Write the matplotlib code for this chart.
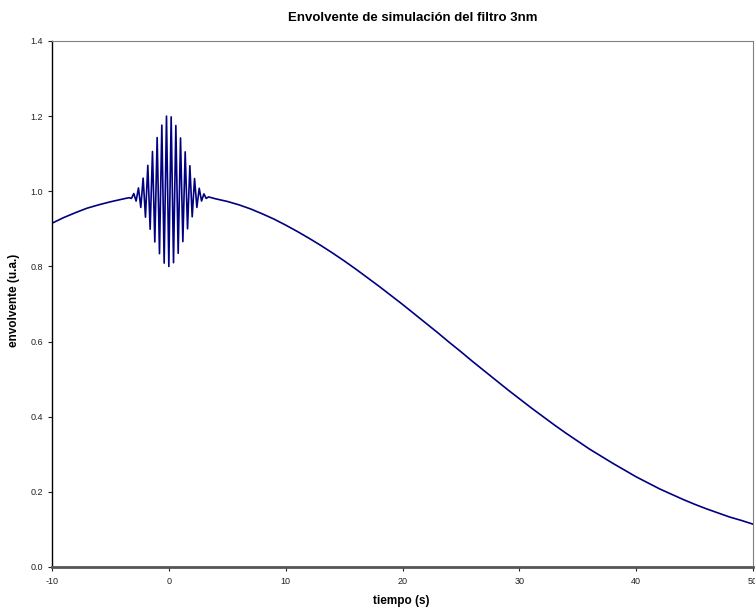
import matplotlib
matplotlib.use("Agg")
import matplotlib.pyplot as plt

plt.rcParams['font.family'] = ['Liberation Sans', 'DejaVu Sans']

# Slowly varying envelope before the wave packet (s, u.a.)
left_time = [-10, -9, -8, -7, -6, -5, -4, -3.4]
left_value = [0.915, 0.930, 0.943, 0.955, 0.964, 0.972, 0.979, 0.983]

# Oscillating packet around t = 0: alternating extrema (s, u.a.)
osc_time = [-3.2, -3.0, -2.8, -2.6, -2.4, -2.2, -2.0, -1.8, -1.6, -1.4,
            -1.2, -1.0, -0.8, -0.6, -0.4, -0.2, 0.0, 0.2, 0.4, 0.6,
            0.8, 1.0, 1.2, 1.4, 1.6, 1.8, 2.0, 2.2, 2.4, 2.6,
            2.8, 3.0, 3.2]
osc_value = [0.981, 0.994, 0.974, 1.009, 0.957, 1.035, 0.931, 1.069, 0.899, 1.106,
             0.865, 1.143, 0.834, 1.176, 0.809, 1.200, 0.800, 1.198, 0.810, 1.175,
             0.835, 1.142, 0.866, 1.105, 0.900, 1.068, 0.932, 1.034, 0.957, 1.008,
             0.974, 0.993, 0.981]

# Slowly varying envelope after the wave packet (s, u.a.)
right_time = [3.4, 4, 5, 6, 7, 8, 9, 10, 11, 12, 13, 14, 15, 16, 17, 18, 19, 20,
              21, 22, 23, 24, 25, 26, 27, 28, 29, 30, 31, 32, 33, 34, 35, 36,
              37, 38, 39, 40, 41, 42, 43, 44, 45, 46, 47, 48, 49, 50]
right_value = [0.985, 0.980, 0.973, 0.964, 0.953, 0.940, 0.926, 0.910, 0.893, 0.875,
               0.856, 0.836, 0.815, 0.793, 0.770, 0.747, 0.723, 0.699, 0.674, 0.649,
               0.624, 0.598, 0.573, 0.547, 0.522, 0.497, 0.472, 0.448, 0.424, 0.401,
               0.378, 0.356, 0.335, 0.314, 0.295, 0.276, 0.258, 0.240, 0.224, 0.208,
               0.194, 0.180, 0.167, 0.155, 0.144, 0.133, 0.124, 0.114]

x_ticks = [-10, 0, 10, 20, 30, 40, 50]
y_ticks = [0.0, 0.2, 0.4, 0.6, 0.8, 1.0, 1.2, 1.4]

times = left_time + osc_time + right_time
values = left_value + osc_value + right_value

fig = plt.figure(figsize=(7.55, 6.14), dpi=100)
ax = fig.add_axes([52 / 755, 47 / 614, 701 / 755, 526 / 614])

ax.plot(times, values, color='#000080', linewidth=1.2)

ax.set_xlim(-10, 50)
ax.set_ylim(0.0, 1.4)
ax.set_xticks(x_ticks)
ax.set_xticklabels([str(t) for t in x_ticks])
ax.set_yticks(y_ticks)
ax.set_yticklabels([f"{t:.1f}" for t in y_ticks])
ax.tick_params(axis='both', direction='out', length=3, width=0.8,
               labelsize=6.5, colors='#222222')
ax.tick_params(axis='x', pad=4)

ax.spines['left'].set_color('black')
ax.spines['left'].set_linewidth(1.0)
ax.spines['bottom'].set_color('#555555')
ax.spines['bottom'].set_linewidth(2.0)
ax.spines['top'].set_color('#808080')
ax.spines['top'].set_linewidth(0.8)
ax.spines['right'].set_color('#808080')
ax.spines['right'].set_linewidth(0.8)

fig.text(413 / 755, 1 - 18 / 614, 'Envolvente de simulación del filtro 3nm',
         ha='center', va='center', fontsize=9.5, fontweight='bold')
fig.text(401 / 755, 1 - 601 / 614, 'tiempo (s)', ha='center', va='center',
         fontsize=8.5, fontweight='bold')
fig.text(14 / 755, 1 - 300 / 614, 'envolvente (u.a.)', ha='center', va='center',
         rotation=90, fontsize=8.5, fontweight='bold')

fig.savefig('out.png', dpi=100)
